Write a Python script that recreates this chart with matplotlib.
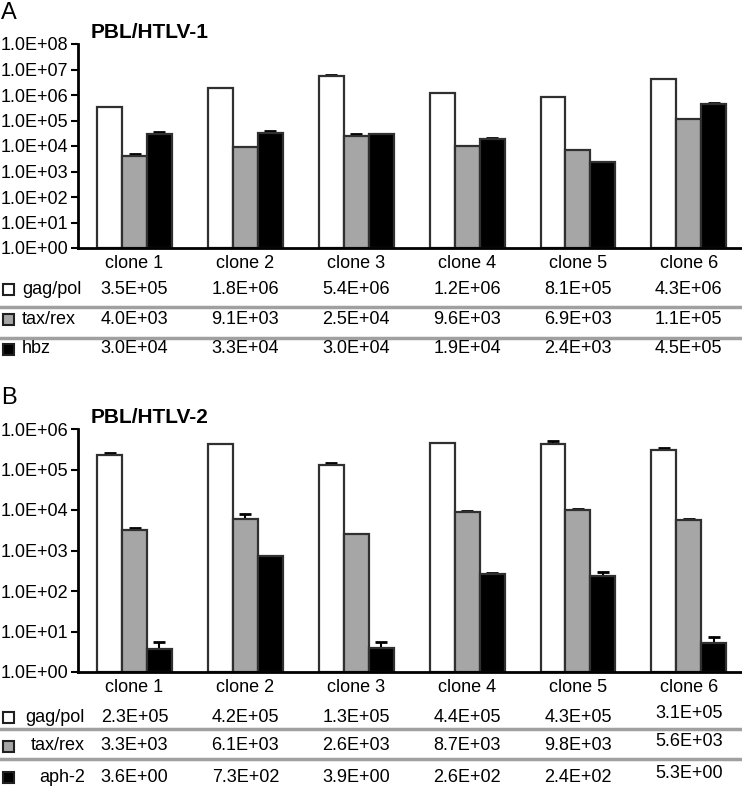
import numpy as np
import matplotlib
matplotlib.use('Agg')
import matplotlib.pyplot as plt
from matplotlib.patches import Rectangle
from matplotlib.lines import Line2D
import matplotlib.transforms as mtransforms

plt.rcParams['font.family'] = ['Liberation Sans', 'DejaVu Sans']

clones = ['clone 1', 'clone 2', 'clone 3', 'clone 4', 'clone 5', 'clone 6']

# panel A: PBL/HTLV-1
a_gag = [3.5e5, 1.8e6, 5.4e6, 1.2e6, 8.1e5, 4.3e6]
a_tax = [4.0e3, 9.1e3, 2.5e4, 9.6e3, 6.9e3, 1.1e5]
a_hbz = [3.0e4, 3.3e4, 3.0e4, 1.9e4, 2.4e3, 4.5e5]
a_gag_err = [0, 0, 8e5, 0, 0, 0]
a_tax_err = [7e2, 0, 4e3, 0, 0, 0]
a_hbz_err = [5e3, 5e3, 0, 2.5e3, 0, 4e4]

# panel B: PBL/HTLV-2
b_gag = [2.3e5, 4.2e5, 1.3e5, 4.4e5, 4.3e5, 3.1e5]
b_tax = [3.3e3, 6.1e3, 2.6e3, 8.7e3, 9.8e3, 5.6e3]
b_aph = [3.6, 7.3e2, 3.9, 2.6e2, 2.4e2, 5.3]
b_gag_err = [3e4, 0, 1.2e4, 0, 9e4, 2.5e4]
b_tax_err = [3e2, 1.7e3, 0, 8e2, 8e2, 5e2]
b_aph_err = [2.0, 0, 1.6, 2e1, 6e1, 2.2]

W, H = 742, 787
fig = plt.figure(figsize=(W / 100, H / 100), dpi=100)

fill = ['white', '#a6a6a6', 'black']
bw = 0.225
x = np.arange(6)
FS = 13


def fy(p):
    return 1 - p / H


def panel(top, bottom, ymax, title, letter, series, errs):
    ax = fig.add_axes([78 / W, fy(bottom), 1 - 78 / W, fy(top) - fy(bottom)])
    for i, (vals, err) in enumerate(zip(series, errs)):
        xs = x + (i - 1) * bw
        ax.bar(xs, np.array(vals) - 1, bw, bottom=1, color=fill[i],
               edgecolor='#303030', linewidth=1.6, zorder=2)
        e = np.array(err)
        m = e > 0
        ax.errorbar(xs[m], np.array(vals)[m], yerr=[np.zeros(m.sum()), e[m]],
                    fmt='none', ecolor='black', elinewidth=1.5, capsize=4,
                    capthick=2, zorder=1)
    ax.set_yscale('log')
    ax.set_ylim(1, ymax)
    ax.set_xlim(-0.51, 5.48)
    dec = [10.0 ** k for k in range(int(np.log10(ymax)) + 1)]
    ax.set_yticks(dec)
    ax.set_yticklabels(['1.0E+%02d' % k for k in range(len(dec))], fontsize=13)
    ax.yaxis.set_minor_locator(matplotlib.ticker.NullLocator())
    ax.tick_params(axis='y', length=5, width=1.5, pad=2)
    ax.set_xticks(x)
    ax.set_xticklabels(clones, fontsize=FS)
    ax.tick_params(axis='x', length=0, pad=5)
    for s in ['top', 'right']:
        ax.spines[s].set_visible(False)
    for s in ['left', 'bottom']:
        ax.spines[s].set_linewidth(2)
    ax.patch.set_alpha(0)
    fig.text(91 / W, fy(top - 11), title, fontsize=15, fontweight='bold',
             va='center', ha='left')
    fig.text(1 / W, fy(top - 31), letter, fontsize=17, va='center', ha='left')
    return ax


def table(ax, rows, names, ys, lines, right_align, dy6=0):
    tr = mtransforms.blended_transform_factory(ax.transData, fig.transFigure)
    for r, (vals, name, yy) in enumerate(zip(rows, names, ys)):
        for j, v in enumerate(vals):
            off = dy6 if j == 5 else 0
            fig.text(x[j], fy(yy - off), '%.1E' % v, transform=tr, fontsize=FS,
                     ha='center', va='center')
        fig.patches.append(Rectangle((3 / W, fy(yy + 6)), 11 / W, 11 / H,
                                     facecolor=fill[r], edgecolor='#202020',
                                     linewidth=1.5, transform=fig.transFigure))
        if right_align:
            fig.text(85 / W, fy(yy), name, fontsize=FS, ha='right', va='center')
        else:
            fig.text(22 / W, fy(yy), name, fontsize=FS, ha='left', va='center')
    for ly in lines:
        fig.lines.append(Line2D([0, 1], [fy(ly), fy(ly)], color='#a0a0a0',
                                linewidth=2.5, transform=fig.transFigure))


axA = panel(44, 248, 1e8, 'PBL/HTLV-1', 'A', [a_gag, a_tax, a_hbz],
            [a_gag_err, a_tax_err, a_hbz_err])
table(axA, [a_gag, a_tax, a_hbz], ['gag/pol', 'tax/rex', 'hbz'],
      [289, 319, 349], [307, 338], False)

axB = panel(429, 672, 1e6, 'PBL/HTLV-2', 'B', [b_gag, b_tax, b_aph],
            [b_gag_err, b_tax_err, b_aph_err])
table(axB, [b_gag, b_tax, b_aph], ['gag/pol', 'tax/rex', 'aph-2'],
      [717, 746, 777], [729, 759], True, dy6=4)

fig.savefig('out.png', dpi=100)
